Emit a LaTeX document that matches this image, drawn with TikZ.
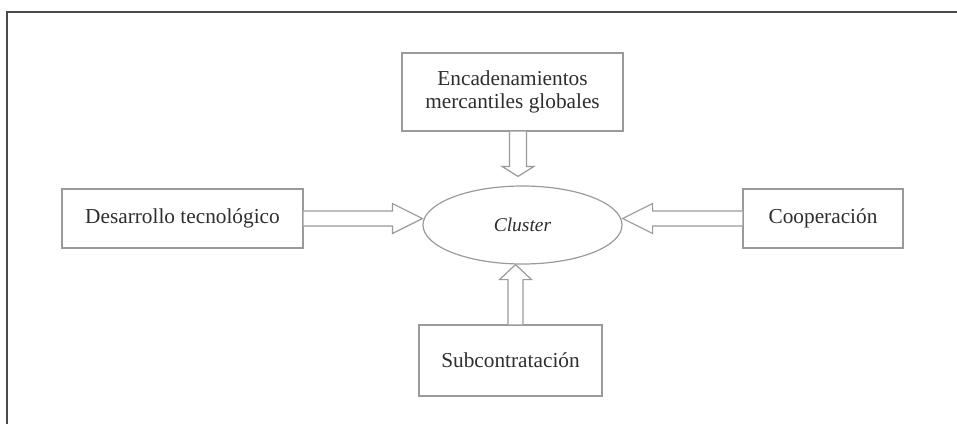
\documentclass[tikz,border=0pt]{standalone}
\usepackage{fontspec}
\setmainfont{Liberation Serif}
\usetikzlibrary{calc,shapes.geometric}
\definecolor{linegray}{HTML}{9A9A9A}
\definecolor{framegray}{HTML}{4A4A4A}
\definecolor{txtgray}{HTML}{2E2E2E}
\tikzset{
  box/.style={draw=linegray, line width=1.3pt, rectangle, inner sep=0pt, align=center,
    text=txtgray, font=\fontsize{21.3}{23}\selectfont},
  clusterell/.style={draw=linegray, line width=1.2pt, ellipse, inner sep=0pt,
    text=txtgray, font=\fontsize{19.5}{23}\selectfont\itshape},
  blockarr/.style={draw=linegray, line width=1.2pt, fill=white, line join=miter},
  frameline/.style={draw=framegray, line width=1.8pt}
}
% #1 start, #2 tip, #3 shaft half-width, #4 head half-width, #5 head length
\newcommand{\blockarrow}[5]{%
  \coordinate (hbase) at ($(#2)!#5!(#1)$);
  \draw[blockarr] ($(#1)!#3!90:(#2)$) -- ($(hbase)!#3!-90:(#1)$) -- ($(hbase)!#4!-90:(#1)$)
    -- (#2) -- ($(hbase)!#4!90:(#1)$) -- ($(hbase)!#3!90:(#1)$) -- ($(#1)!#3!-90:(#2)$);
}
\begin{document}
\begin{tikzpicture}[x=1pt, y=-1pt]
\useasboundingbox (0,0) rectangle (957,424);
\draw[frameline] (7,424) -- (7,12) -- (957,12);

\node[box, minimum width=221pt, minimum height=78pt] (tb) at (512.5,92) {Encadenamientos\\mercantiles globales};
\node[box, minimum width=241pt, minimum height=59pt] (lb) at (182.5,218.5) {Desarrollo tecnológico};
\node[box, minimum width=160pt, minimum height=59pt] (rb) at (823,218.5) {Cooperación};
\node[box, minimum width=183pt, minimum height=71pt] (bb) at (510.5,360.5) {Subcontratación};
\node[clusterell, minimum width=199pt, minimum height=78pt] (ell) at (522.5,225) {Cluster};

\coordinate (ltip) at (ell.west |- lb.east);
\coordinate (rtip) at (ell.east |- rb.west);
\coordinate (tstart) at ($(tb.south)+(5.5,0)$);
\coordinate (ttip) at ($(ell.north)+(-4.5,-9)$);
\coordinate (bstart) at ($(bb.north)+(5,0)$);
\coordinate (btip) at (ell.south -| bstart);

\blockarrow{lb.east}{ltip}{7.5pt}{15pt}{30pt}
\blockarrow{rb.west}{rtip}{7.5pt}{15pt}{30pt}
\blockarrow{tstart}{ttip}{8.5pt}{16pt}{10pt}
\blockarrow{bstart}{btip}{7.5pt}{16pt}{15pt}
\end{tikzpicture}
\end{document}
